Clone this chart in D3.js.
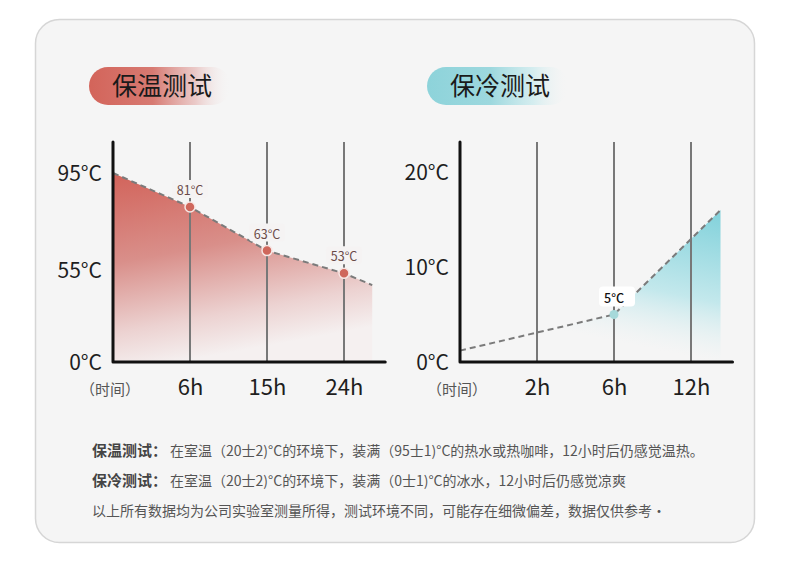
<!DOCTYPE html>
<html lang="zh">
<head>
<meta charset="utf-8">
<title>保温 / 保冷测试</title>
<script src="https://cdn.jsdelivr.net/npm/d3@7/dist/d3.min.js"></script>
<style>
  body {margin: 0; background: #fff;}
  svg {display: block; font-family: "Noto Sans CJK SC", "Noto Sans", sans-serif;}
  .grille {stroke: #787878; stroke-width: 2;}
  .axe {fill: none; stroke: #111; stroke-width: 3; stroke-linejoin: round; stroke-linecap: round;}
  .courbe {fill: none; stroke: #7b7b7b; stroke-width: 2; stroke-dasharray: 6 4;}
  .tick text {fill: #1e1e1e;}
</style>
</head>
<body>
<svg width="790" height="570"></svg>
<script>
// ---- données : 保温测试 ----
var heuresChaud = [0, 6, 15, 24, 27.3];
var tempChaud = [95, 81, 63, 53, 46];
var ticksHeuresChaud = [6, 15, 24];
var ticksTempChaud = [0, 55, 95];
var etiquettesChaud = ["81°C", "63°C", "53°C"]; // points à 6h, 15h, 24h

// ---- données : 保冷测试 ----
var heuresFroid = [0, 6, 14.3];
var tempFroid = [1.2, 5, 16];
var ticksHeuresFroid = [2, 6, 12];
var ticksTempFroid = [0, 10, 20];
var etiquettesFroid = ["5°C"]; // point à 6h

var titres = ["保温测试", "保冷测试"];
var notes = [
  {gras: "保温测试：", texte: "在室温（20士2)°C的环境下，装满（95士1)°C的热水或热咖啡，12小时后仍感觉温热。"},
  {gras: "保冷测试：", texte: "在室温（20士2)°C的环境下，装满（0士1)°C的冰水，12小时后仍感觉凉爽"},
  {gras: "", texte: "以上所有数据均为公司实验室测量所得，测试环境不同，可能存在细微偏差，数据仅供参考·"}
];

var svg = d3.select("svg");
var defs = svg.append("defs");

// carte de fond
svg.append("rect")
  .attr("x", 35.5).attr("y", 19.5)
  .attr("width", 719).attr("height", 523)
  .attr("rx", 24)
  .attr("fill", "#f5f5f5")
  .attr("stroke", "#d6d6d6")
  .attr("stroke-width", 1.5);

// dégradés
function degrade(id, x1, y1, x2, y2, stops) {
  var g = defs.append("linearGradient").attr("id", id)
    .attr("x1", x1).attr("y1", y1).attr("x2", x2).attr("y2", y2);
  stops.forEach(function (s) {
    g.append("stop").attr("offset", s[0]).attr("stop-color", s[1]).attr("stop-opacity", s[2]);
  });
}
degrade("badgeChaud", 0, 0, 1, 0, [[0, "#d3645a", 1], [0.45, "#d77a72", 1], [0.75, "#e8bfbd", 0.8], [1, "#f5f5f5", 0]]);
degrade("badgeFroid", 0, 0, 1, 0, [[0, "#8dd3da", 1], [0.45, "#9dd8de", 1], [0.75, "#cdebee", 0.8], [1, "#f5f5f5", 0]]);
degrade("aireChaud", 0, 0, 0.25, 1, [[0, "#d2635a", 1], [0.45, "#d98f8a", 1], [0.8, "#ecd2d1", 1], [1, "#f5f0f0", 1]]);
degrade("aireFroid", 0.85, 0, 0.5, 1, [[0, "#86d3dc", 1], [0.5, "#c3e8ec", 1], [0.85, "#f5f5f5", 0.3], [1, "#f5f5f5", 0]]);

// titres en pastille
function pastille(x, y, texte, id) {
  svg.append("rect")
    .attr("x", x).attr("y", y).attr("width", 142).attr("height", 38).attr("rx", 19)
    .attr("fill", "url(#" + id + ")");
  svg.append("text")
    .attr("x", x + 23).attr("y", y + 28)
    .attr("font-size", 25)
    .attr("fill", "#1a1a1a")
    .text(texte);
}
pastille(89, 67, titres[0], "badgeChaud");
pastille(427, 67, titres[1], "badgeFroid");

var pasX = 77;

function graphique(opt) {
  var g = svg.append("g");
  var x0 = opt.x0, haut = 142, bas = 362;

  // échelle des heures : ticks régulièrement espacés
  var domX = [0].concat(opt.ticksX);
  var echelleX = d3.scaleLinear()
    .domain(domX)
    .range(domX.map(function (d, i) { return x0 + i * pasX; }));
  var echelleY = d3.scaleLinear().domain(opt.domY).range(opt.rangeY);

  var donnees = opt.heures.map(function (h, i) { return {h: h, t: opt.temps[i]}; });

  // aire
  var aire = d3.area()
    .x(function (d) { return echelleX(d.h); })
    .y0(bas)
    .y1(function (d) { return echelleY(d.t); });
  g.append("path").datum(donnees)
    .attr("d", aire)
    .attr("fill", "url(#" + opt.idAire + ")");

  // lignes verticales
  g.selectAll("line.grille").data(opt.ticksX).enter().append("line")
    .classed("grille", true)
    .attr("x1", function (d) { return echelleX(d); })
    .attr("x2", function (d) { return echelleX(d); })
    .attr("y1", haut).attr("y2", bas);

  // courbe en pointillés
  g.append("path").datum(donnees)
    .classed("courbe", true)
    .attr("d", d3.line()
      .x(function (d) { return echelleX(d.h); })
      .y(function (d) { return echelleY(d.t); }));

  // axes (L)
  g.append("path").classed("axe", true)
    .attr("d", "M" + x0 + "," + haut + "V" + bas + "H" + (echelleX(opt.heures[opt.heures.length - 1]) + opt.depasse));

  var axeY = d3.axisLeft(echelleY)
    .tickValues(opt.ticksY)
    .tickSize(0).tickPadding(11)
    .tickFormat(function (d) { return d + "°C"; });
  g.append("g").attr("transform", "translate(" + x0 + ",0)")
    .call(axeY)
    .call(function (s) { s.select(".domain").remove(); })
    .selectAll("text")
      .attr("font-size", 21)
      .attr("font-family", "'Noto Sans CJK SC', sans-serif")
      .attr("dy", "0.36em");

  var axeX = d3.axisBottom(echelleX)
    .tickValues(opt.ticksX)
    .tickSize(0).tickPadding(17)
    .tickFormat(function (d) { return d + "h"; });
  g.append("g").attr("transform", "translate(0," + bas + ")")
    .call(axeX)
    .call(function (s) { s.select(".domain").remove(); })
    .selectAll("text")
      .attr("font-size", 22)
      .attr("font-family", "'Noto Sans CJK SC', sans-serif");

  g.append("text")
    .attr("x", x0 - 3).attr("y", bas + 33)
    .attr("text-anchor", "middle")
    .attr("font-size", 15)
    .attr("fill", "#555")
    .text("（时间）");

  // points étiquetés
  var pts = donnees.filter(function (d) { return opt.ticksX.indexOf(d.h) >= 0 && d.h <= opt.dernierPoint; });
  var gp = g.selectAll("g.point").data(pts).enter().append("g")
    .attr("transform", function (d) { return "translate(" + echelleX(d.h) + "," + echelleY(d.t) + ")"; });

  gp.append("rect")
    .attr("x", opt.boite[0]).attr("y", opt.boite[1])
    .attr("width", opt.boite[2]).attr("height", opt.boite[3])
    .attr("rx", 4)
    .attr("fill", opt.fondEtiquette);
  gp.append("text")
    .attr("y", -12)
    .attr("text-anchor", "middle")
    .attr("font-size", 12.5)
    .attr("font-weight", opt.grasEtiquette)
    .attr("fill", opt.couleurEtiquette)
    .text(function (d, i) { return opt.etiquettes[i]; });
  gp.append("circle")
    .attr("r", opt.rayon)
    .attr("fill", opt.couleurPoint)
    .attr("stroke", opt.contourPoint)
    .attr("stroke-width", 1.5);
}

graphique({
  x0: 113, heures: heuresChaud, temps: tempChaud,
  ticksX: ticksHeuresChaud, ticksY: ticksTempChaud,
  domY: [0, 55, 95], rangeY: [362, 270, 173],
  idAire: "aireChaud", depasse: 13, dernierPoint: 24,
  etiquettes: etiquettesChaud,
  boite: [-18, -27, 36, 18], fondEtiquette: "#f5f3f3",
  couleurEtiquette: "#6a4a48", grasEtiquette: "normal",
  rayon: 5, couleurPoint: "#cf675c", contourPoint: "#f6e6e4"
});

graphique({
  x0: 460, heures: heuresFroid, temps: tempFroid,
  ticksX: ticksHeuresFroid, ticksY: ticksTempFroid,
  domY: [0, 20], rangeY: [362, 172],
  idAire: "aireFroid", depasse: 12, dernierPoint: 12,
  etiquettes: etiquettesFroid,
  boite: [-15, -28, 36, 20], fondEtiquette: "#ffffff",
  couleurEtiquette: "#111", grasEtiquette: "500",
  rayon: 4.5, couleurPoint: "#a6d9da", contourPoint: "none"
});

// notes en bas
var gNotes = svg.append("g");
notes.forEach(function (n, i) {
  var t = gNotes.append("text")
    .attr("x", 92).attr("y", 456 + i * 30)
    .attr("fill", "#555");
  if (n.gras) {
    t.append("tspan").attr("font-size", 15).attr("font-weight", "bold").attr("fill", "#444").text(n.gras);
  }
  t.append("tspan").attr("font-size", 14).attr("dx", n.gras ? 3 : 0).text(n.texte);
});
</script>
</body>
</html>
